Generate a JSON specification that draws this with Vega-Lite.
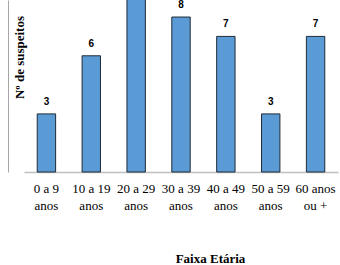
{
  "$schema": "https://vega.github.io/schema/vega-lite/v6.json",
  "autosize": {"type": "none"},
  "width": 314,
  "height": 172,
  "padding": {"left": 24, "top": 0, "right": 2, "bottom": 93},
  "background": "white",
  "config": {"view": {"stroke": null}},
  "data": {
    "values": [
      {"faixa": "0 a 9 anos", "n": 3},
      {"faixa": "10 a 19 anos", "n": 6},
      {"faixa": "20 a 29 anos", "n": 9},
      {"faixa": "30 a 39 anos", "n": 8},
      {"faixa": "40 a 49 anos", "n": 7},
      {"faixa": "50 a 59 anos", "n": 3},
      {"faixa": "60 anos ou +", "n": 7}
    ]
  },
  "encoding": {
    "x": {
      "field": "faixa",
      "type": "nominal",
      "sort": null,
      "scale": {"paddingInner": 0.59, "paddingOuter": 0.295},
      "axis": {
        "title": "Faixa Etária",
        "labelAngle": 0,
        "labelExpr": "datum.label == '60 anos ou +' ? ['60 anos', 'ou +'] : [replace(datum.label, ' anos', ''), 'anos']",
        "labelFont": "Liberation Serif",
        "labelFontSize": 13,
        "labelColor": "black",
        "labelLineHeight": 17,
        "labelPadding": 10,
        "ticks": false,
        "domainColor": "#bfbfbf",
        "domainWidth": 1.5,
        "titleFont": "Liberation Serif",
        "titleFontSize": 13,
        "titleFontWeight": "bold",
        "titleColor": "black",
        "titleX": 186,
        "titleY": 86,
        "titleAlign": "center",
        "titleBaseline": "middle"
      }
    },
    "y": {
      "field": "n",
      "type": "quantitative",
      "scale": {"domain": [0, 8.88], "nice": false, "zero": true},
      "axis": {
        "title": "Nº de suspeitos",
        "labels": false,
        "ticks": false,
        "grid": false,
        "domain": true,
        "domainColor": "#a6a6a6",
        "domainWidth": 1,
        "offset": 16,
        "titleFont": "Liberation Serif",
        "titleFontSize": 13,
        "titleFontWeight": "bold",
        "titleColor": "black",
        "titleAngle": -90,
        "titleX": 11,
        "titleY": 57,
        "titleAlign": "center",
        "titleBaseline": "middle"
      }
    }
  },
  "layer": [
    {
      "mark": {"type": "bar", "color": "#5b9bd5", "stroke": "#1f2a36", "strokeWidth": 1, "clip": false}
    },
    {
      "mark": {"type": "text", "baseline": "bottom", "dy": -7, "font": "Liberation Sans", "fontWeight": "bold", "fontSize": 10, "color": "black"},
      "encoding": {"text": {"field": "n", "type": "quantitative"}}
    }
  ]
}
